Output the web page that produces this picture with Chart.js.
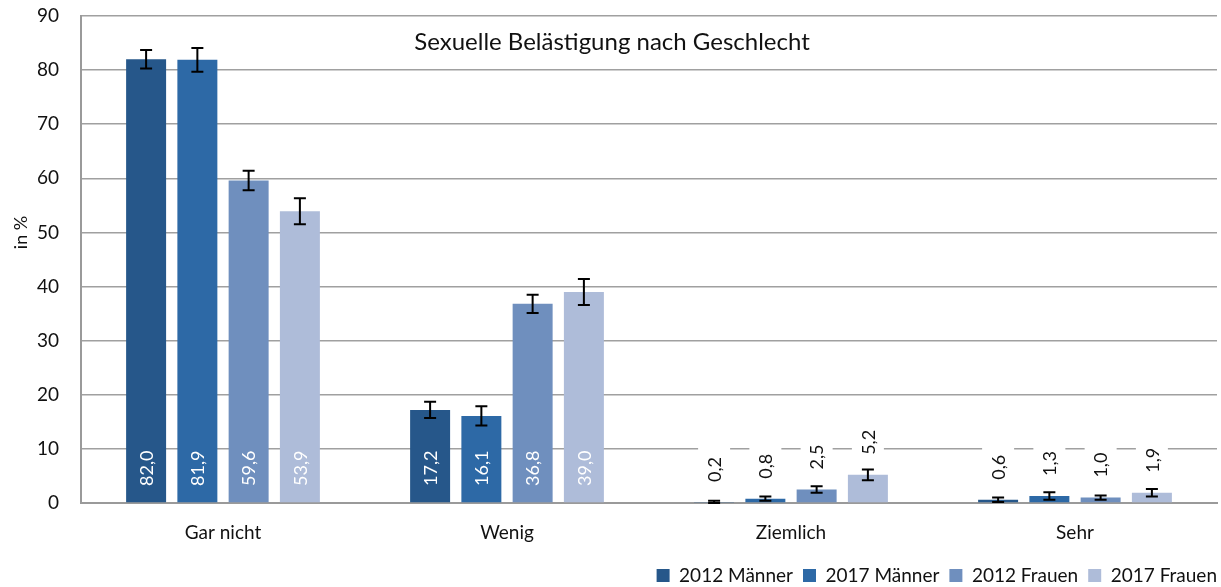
<!DOCTYPE html>
<html>
<head>
<meta charset="utf-8">
<script src="https://cdn.jsdelivr.net/npm/chart.js@4"></script>
<style>
html,body{margin:0;padding:0;background:#fff;}
#wrap{width:1221px;height:587px;position:relative;}
</style>
</head>
<body>
<div id="wrap"><canvas id="c" width="1221" height="587"></canvas></div>
<script>
const chartTitle = 'Sexuelle Belästigung nach Geschlecht';
const yAxisTitle = 'in %';
const categories = ['Gar nicht', 'Wenig', 'Ziemlich', 'Sehr'];
const seriesNames = ['2012 Männer', '2017 Männer', '2012 Frauen', '2017 Frauen'];
const maenner2012 = [82.0, 17.2, 0.2, 0.6];
const maenner2017 = [81.9, 16.1, 0.8, 1.3];
const frauen2012 = [59.6, 36.8, 2.5, 1.0];
const frauen2017 = [53.9, 39.0, 5.2, 1.9];
const errMaenner2012 = [1.7, 1.5, 0.2, 0.4];
const errMaenner2017 = [2.2, 1.8, 0.4, 0.7];
const errFrauen2012 = [1.8, 1.7, 0.6, 0.4];
const errFrauen2017 = [2.4, 2.4, 1.0, 0.7];
const yTicks = [0, 10, 20, 30, 40, 50, 60, 70, 80, 90];

const colors = ['#26578a', '#2d69a6', '#6f8fbe', '#aebcd9'];
const seriesValues = [maenner2012, maenner2017, frauen2012, frauen2017];
const seriesErrors = [errMaenner2012, errMaenner2017, errFrauen2012, errFrauen2017];

const FONT = 'Lato';
const LEGEND_PAD = 10;
Chart.defaults.font.family = FONT;
Chart.defaults.color = '#111111';

function fmt(v){ return v.toFixed(1).replace('.', ','); }

const overlayPlugin = {
  id: 'overlay',
  afterLayout(chart) {
    if (chart.legend) {
      chart.legend.right += LEGEND_PAD;
      chart.legend.top += 10;
      chart.legend.bottom += 10;
    }
  },
  afterDatasetsDraw(chart) {
    const ctx = chart.ctx;
    const y = chart.scales.y;
    // error bars
    chart.data.datasets.forEach((ds, di) => {
      const meta = chart.getDatasetMeta(di);
      meta.data.forEach((bar, i) => {
        const v = ds.data[i], e = seriesErrors[di][i];
        const yt = y.getPixelForValue(v + e), yb = y.getPixelForValue(Math.max(0, v - e));
        ctx.save();
        ctx.strokeStyle = '#000';
        ctx.lineWidth = 2;
        ctx.beginPath();
        ctx.moveTo(bar.x, yt); ctx.lineTo(bar.x, yb);
        ctx.moveTo(bar.x - 6, yt); ctx.lineTo(bar.x + 6, yt);
        ctx.moveTo(bar.x - 6, yb); ctx.lineTo(bar.x + 6, yb);
        ctx.stroke();
        ctx.restore();
      });
    });
    // data labels
    const base = y.getPixelForValue(0);
    chart.data.datasets.forEach((ds, di) => {
      const meta = chart.getDatasetMeta(di);
      meta.data.forEach((bar, i) => {
        const v = ds.data[i];
        const txt = fmt(v);
        ctx.save();
        ctx.font = '18px ' + FONT;
        const w = ctx.measureText(txt).width;
        let sy, color;
        if (v >= 10) { sy = base - 17; color = '#ffffff'; }
        else { sy = bar.y - 20; color = '#111111'; }
        ctx.translate(bar.x, sy);
        ctx.rotate(-Math.PI / 2);
        if (v < 10) {
          ctx.fillStyle = '#ffffff';
          ctx.fillRect(-6, -16, w + 18, 32);
        }
        ctx.fillStyle = color;
        ctx.textAlign = 'left';
        ctx.textBaseline = 'middle';
        ctx.fillText(txt, 0, 1);
        ctx.restore();
      });
    });
    // title and axis title
    ctx.save();
    ctx.fillStyle = '#111111';
    ctx.font = '24px ' + FONT;
    ctx.textAlign = 'center';
    ctx.textBaseline = 'middle';
    ctx.fillText(chartTitle, 612, 42);
    ctx.translate(21, y.getPixelForValue(50));
    ctx.rotate(-Math.PI / 2);
    ctx.font = '18px ' + FONT;
    ctx.fillText(yAxisTitle, 0, 0);
    ctx.restore();
  }
};

new Chart(document.getElementById('c'), {
  type: 'bar',
  data: {
    labels: categories,
    datasets: seriesNames.map((n, i) => ({
      label: n,
      data: seriesValues[i],
      backgroundColor: colors[i],
      borderWidth: 0,
      categoryPercentage: 0.722,
      barPercentage: 0.78
    }))
  },
  options: {
    responsive: false,
    animation: false,
    devicePixelRatio: 1,
    layout: { padding: { left: 0, right: 4, top: 16, bottom: 2 } },
    plugins: {
      title: { display: false },
      tooltip: { enabled: false },
      legend: {
        position: 'bottom',
        align: 'end',
        labels: {
          boxWidth: 13, boxHeight: 13, padding: LEGEND_PAD,
          font: { size: 19, family: FONT },
          color: '#111111'
        }
      }
    },
    scales: {
      x: {
        grid: { display: false, drawTicks: false },
        border: { display: true, color: '#9a9a9a', width: 2 },
        ticks: { font: { size: 19 }, color: '#111111', padding: 18 },
        afterFit(s) { s.height = 43; s.paddingLeft = 0; s.paddingRight = 0; }
      },
      y: {
        min: 0, max: 90,
        afterBuildTicks(s) { s.ticks = yTicks.map(v => ({ value: v })); },
        grid: { color: '#a0a0a0', lineWidth: 1.5, drawTicks: false },
        border: { display: true, color: '#9a9a9a', width: 2 },
        ticks: { font: { size: 19 }, color: '#111111', padding: 22 },
        afterFit(s) { s.width = 81; s.paddingTop = 0; s.paddingBottom = 0; }
      }
    }
  },
  plugins: [overlayPlugin]
});
</script>
</body>
</html>
